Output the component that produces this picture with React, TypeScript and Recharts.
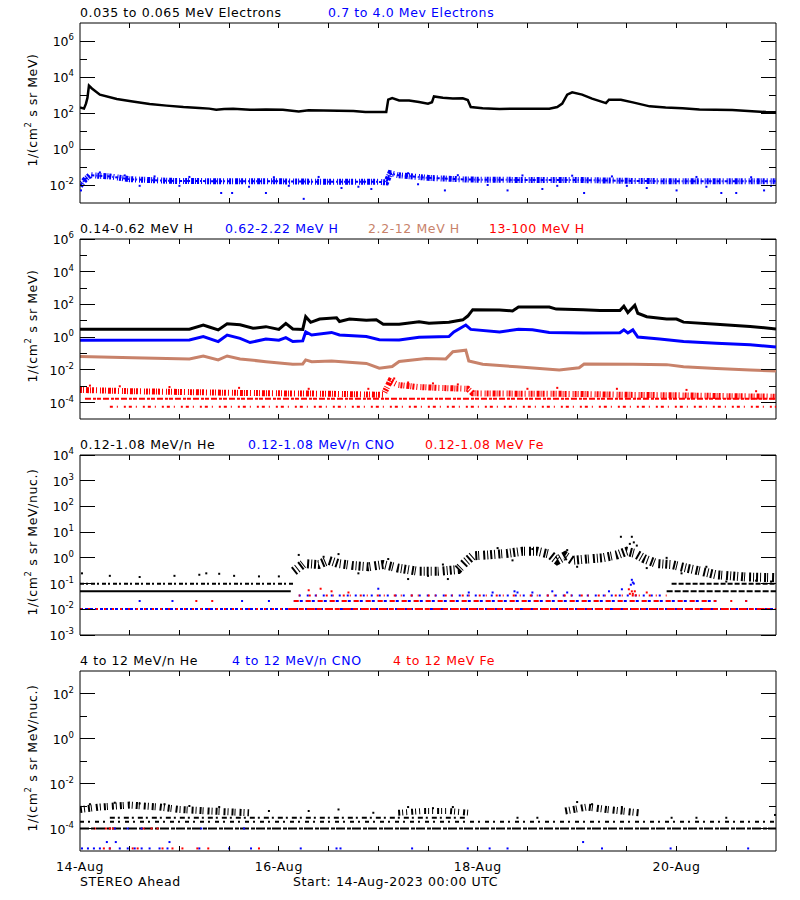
import React from "react";
import { ComposedChart, Line, Scatter, XAxis, YAxis, ReferenceLine } from "recharts";

type Pt = [number, number];

const FONT = "'DejaVu Sans', sans-serif";
const BLACK = "#000000";
const BLUE = "#0000ff";
const RED = "#ff0000";
const TAN = "#c8826a";

const PLOT_W = 696;
const PLOT_H = 180;

// x axis: days since 14-Aug-2023 00:00 UTC
const halfDays = [0, 0.5, 1, 1.5, 2, 2.5, 3, 3.5, 4, 4.5, 5, 5.5, 6, 6.5, 7];
const dateLabels: Record<number, string> = { 0: "14-Aug", 2: "16-Aug", 4: "18-Aug", 6: "20-Aug" };

// ---- panel 1: electrons
const eLow: Pt[] = [
  [0, 200], [0.04, 175], [0.06, 330], [0.075, 700], [0.085, 2000], [0.09, 3300], [0.12, 2300], [0.2, 1050],
  [0.37, 600], [0.53, 440], [0.7, 316], [0.87, 257], [1.04, 214], [1.2, 190], [1.3, 175], [1.37, 151],
  [1.45, 168], [1.54, 174], [1.71, 151], [1.87, 158], [2.04, 151], [2.2, 123], [2.3, 140], [2.45, 138],
  [2.6, 132], [2.75, 128], [2.87, 112], [3.0, 112], [3.08, 112], [3.1, 550], [3.14, 676], [3.21, 500],
  [3.31, 500], [3.41, 407], [3.5, 331], [3.54, 400], [3.56, 832], [3.65, 708], [3.75, 631], [3.85, 660],
  [3.9, 525], [3.93, 214], [4.05, 182], [4.22, 166], [4.39, 174], [4.55, 174], [4.72, 174], [4.8, 214],
  [4.85, 331], [4.9, 1050], [4.95, 1410], [5.05, 1050], [5.15, 631], [5.29, 355], [5.32, 550], [5.44, 550],
  [5.56, 389], [5.73, 234], [5.89, 200], [6.06, 182], [6.23, 158], [6.56, 145], [6.9, 112], [7.0, 110],
];
const eHigh: Pt[] = [
  [0, 0.009], [0.05, 0.02], [0.1, 0.035], [0.3, 0.03], [0.5, 0.021], [0.9, 0.017], [1.5, 0.016], [2.0, 0.016],
  [2.5, 0.015], [3.0, 0.015], [3.08, 0.014], [3.12, 0.045], [3.2, 0.035], [3.5, 0.025], [3.9, 0.02],
  [4.5, 0.019], [5.0, 0.019], [5.5, 0.017], [6.0, 0.016], [6.5, 0.016], [7.0, 0.016],
];
const eHighSpread: Pt[] = [
  [0.01, 0.005], [0.2, 0.05], [0.45, 0.034], [0.75, 0.03], [1.1, 0.028], [1.42, 0.0036], [1.53, 0.0036],
  [1.87, 0.0036], [1.95, 0.027], [2.25, 0.0017], [2.4, 0.028], [2.63, 0.0068], [2.93, 0.006], [3.3, 0.045],
  [3.67, 0.005], [3.8, 0.035], [4.3, 0.005], [4.45, 0.034], [4.65, 0.006], [4.95, 0.033], [5.07, 0.0036],
  [5.35, 0.03], [5.7, 0.0068], [6.0, 0.005], [6.2, 0.028], [6.45, 0.0036], [6.6, 0.0036], [6.75, 0.027],
  [6.88, 0.005], [0.6, 0.009], [1.0, 0.009], [1.7, 0.008], [2.1, 0.009], [2.8, 0.008], [3.4, 0.011],
  [4.1, 0.01], [4.8, 0.009], [5.5, 0.009], [6.3, 0.008], [6.95, 0.009],
];

// ---- panel 2: protons
const h1: Pt[] = [
  [0, 3.0], [0.5, 3.0], [1.1, 3.1], [1.24, 5.5], [1.3, 4.2], [1.39, 2.8], [1.48, 6.6], [1.61, 5.8],
  [1.74, 3.5], [1.87, 4.4], [2.0, 3.0], [2.07, 7], [2.14, 3.2], [2.24, 3.0], [2.27, 17.8], [2.32, 8.1],
  [2.41, 12.9], [2.58, 15.5], [2.61, 9.1], [2.71, 12.9], [2.88, 10.7], [2.98, 11.5], [3.05, 6.2], [3.21, 6.2],
  [3.41, 8.9], [3.51, 7.1], [3.71, 8.3], [3.85, 11.5], [3.9, 19.5], [3.95, 48], [4.22, 46], [4.35, 40],
  [4.41, 69], [4.72, 69], [4.79, 52], [5.06, 48], [5.23, 42], [5.43, 42], [5.47, 78], [5.51, 32],
  [5.58, 89], [5.61, 29], [5.7, 17.8], [5.9, 12.9], [6.0, 12.9], [6.07, 8.3], [6.4, 6.2], [6.74, 4.5], [7.0, 3.2],
];
const h2: Pt[] = [
  [0, 0.65], [1.1, 0.68], [1.24, 1.1], [1.39, 0.54], [1.48, 1.35], [1.61, 0.85], [1.71, 0.47], [1.87, 0.78],
  [2.0, 0.65], [2.07, 0.93], [2.14, 0.54], [2.24, 0.59], [2.27, 2.1], [2.33, 1.35], [2.53, 1.95], [2.61, 1.35],
  [2.88, 1.1], [3.01, 0.7], [3.21, 0.68], [3.41, 1.0], [3.71, 1.1], [3.76, 2.1], [3.88, 5.5], [3.93, 3.0],
  [4.22, 2.1], [4.41, 3.0], [4.55, 2.8], [4.72, 1.95], [5.06, 1.8], [5.43, 1.85], [5.47, 2.8], [5.51, 1.8],
  [5.56, 2.8], [5.61, 1.02], [5.83, 0.78], [6.07, 0.54], [6.4, 0.43], [6.74, 0.34], [7.0, 0.25],
];
const h3: Pt[] = [
  [0, 0.065], [0.53, 0.056], [1.1, 0.047], [1.24, 0.071], [1.39, 0.041], [1.48, 0.071], [1.61, 0.047],
  [1.87, 0.032], [2.14, 0.022], [2.24, 0.023], [2.27, 0.041], [2.33, 0.032], [2.53, 0.035], [2.88, 0.025],
  [3.01, 0.0126], [3.14, 0.016], [3.21, 0.033], [3.48, 0.05], [3.68, 0.047], [3.75, 0.13], [3.88, 0.16],
  [3.91, 0.035], [4.05, 0.022], [4.39, 0.0155], [4.82, 0.0098], [5.02, 0.0135], [5.07, 0.023], [5.56, 0.022],
  [5.9, 0.021], [6.07, 0.0155], [6.4, 0.0123], [6.74, 0.0098], [7.0, 0.0085],
];
const h4: Pt[] = [
  [0, 0.0006], [0.5, 0.0005], [1.0, 0.00045], [1.5, 0.0004], [2.0, 0.00037], [2.5, 0.00035], [3.05, 0.0003],
  [3.12, 0.0021], [3.2, 0.0012], [3.4, 0.0009], [3.6, 0.0008], [3.9, 0.0007], [3.95, 0.00037], [4.5, 0.00035],
  [5.0, 0.00034], [5.5, 0.0003], [6.0, 0.00028], [6.5, 0.00025], [7.0, 0.00023],
];
const h4RowA: Pt[] = [[0.05, 1.7e-4], [7, 1.7e-4]];
const h4RowB: Pt[] = [[0.3, 5.6e-5], [7, 5.6e-5]];
const h4Spread: Pt[] = [
  [0.1, 0.0011], [0.4, 0.001], [0.9, 0.0009], [1.6, 0.0008], [2.3, 0.0007], [2.9, 0.0007], [3.16, 0.003],
  [3.3, 0.0017], [3.55, 0.0015], [3.8, 0.0013], [4.5, 0.0007], [4.8, 0.0008], [5.4, 0.0007], [6.1, 0.0006],
  [6.8, 0.0005],
];

// ---- panel 3: 0.12-1.08 MeV/n ions
const heLevel05a: Pt[] = [[0, 0.05], [2.12, 0.05]];
const heLevel05b: Pt[] = [[5.9, 0.05], [7, 0.05]];
const heLevel10a: Pt[] = [[0, 0.098], [2.15, 0.098]];
const heLevel10b: Pt[] = [[5.95, 0.098], [7, 0.098]];
const heBand: Pt[] = [
  [2.15, 0.3], [2.25, 0.6], [2.4, 0.55], [2.5, 0.8], [2.6, 0.6], [2.75, 0.5], [2.9, 0.45], [3.05, 0.55],
  [3.2, 0.4], [3.4, 0.3], [3.6, 0.3], [3.8, 0.35], [3.88, 0.7], [3.95, 1.2], [4.1, 1.3], [4.3, 1.5],
  [4.45, 1.8], [4.6, 1.8], [4.72, 1.4], [4.8, 0.8], [4.88, 1.2], [4.95, 0.8], [5.1, 0.9], [5.25, 1.0],
  [5.4, 1.3], [5.5, 1.8], [5.58, 1.5], [5.68, 0.9], [5.8, 0.6], [5.95, 0.55], [6.1, 0.4], [6.25, 0.3],
  [6.4, 0.22], [6.7, 0.18], [7.0, 0.17],
];
const heDots: Pt[] = [
  [0.02, 0.25], [0.3, 0.2], [0.6, 0.18], [0.95, 0.2], [1.2, 0.22], [1.27, 0.25], [1.4, 0.24], [1.55, 0.2],
  [1.8, 0.19], [2.0, 0.19], [2.2, 1.3], [2.45, 1.1], [2.6, 1.4], [2.8, 0.25], [3.1, 0.9], [3.3, 0.15],
  [3.5, 0.2], [3.65, 0.55], [3.7, 0.15], [4.2, 2.4], [4.35, 0.8], [4.55, 2.2], [4.9, 2.0], [5.0, 0.45],
  [5.44, 6.6], [5.53, 3.5], [5.55, 6.6], [5.57, 4.0], [5.6, 3.0], [5.7, 0.4], [5.9, 1.0], [6.05, 0.25],
  [6.3, 0.45], [6.5, 0.12], [6.8, 0.13], [6.95, 0.12],
];
const ionRow1: Pt[] = [[0, 0.0102], [7, 0.0102]];
const fe1Early: Pt[] = [[0, 0.0102], [2.1, 0.0102]];
const fe1Late: Pt[] = [[2.1, 0.0102], [7, 0.0102]];
const ionRow2: Pt[] = [[2.15, 0.021], [6.4, 0.021]];
const ionRow3: Pt[] = [[2.2, 0.034], [5.9, 0.034]];
const cnoDots: Pt[] = [
  [0.6, 0.021], [0.93, 0.021], [1.63, 0.021], [1.9, 0.021], [3.0, 0.063], [3.91, 0.045], [4.15, 0.045],
  [4.37, 0.05], [4.4, 0.045], [4.55, 0.045], [4.75, 0.05], [4.9, 0.045], [5.32, 0.05], [5.45, 0.06],
  [5.54, 0.09], [5.55, 0.14], [5.56, 0.11], [5.57, 0.1], [6.7, 0.021], [6.95, 0.0102],
];
const feDots: Pt[] = [
  [1.17, 0.021], [1.33, 0.021], [2.3, 0.055], [2.42, 0.063], [2.53, 0.05], [2.7, 0.045], [5.52, 0.06],
  [5.53, 0.04], [5.55, 0.05], [5.56, 0.04], [5.58, 0.05], [5.59, 0.035], [5.7, 0.045], [6.55, 0.021],
  [6.7, 0.021],
];

// ---- panel 4: 4-12 MeV/n ions
const he4Row1: Pt[] = [[0, 1e-4], [7, 1e-4]];
const he4Row2: Pt[] = [[0, 2e-4], [7, 2e-4]];
const he4Row3: Pt[] = [[0.3, 3e-4], [3.9, 3e-4]];
const he4BandA: Pt[] = [[0, 0.0007], [0.2, 0.0009], [0.5, 0.0011], [0.8, 0.0009], [1.0, 0.0007], [1.3, 0.0006], [1.7, 0.0005]];
const he4BandB: Pt[] = [[3.2, 0.0005], [3.45, 0.0006], [3.7, 0.0006], [3.92, 0.0005]];
const he4BandC: Pt[] = [[4.88, 0.0006], [5.1, 0.0009], [5.3, 0.0007], [5.62, 0.0005]];
const he4Dots: Pt[] = [
  [0.1, 0.0012], [0.35, 0.0014], [0.6, 0.0013], [0.85, 0.0012], [1.1, 0.001], [1.4, 0.0009], [1.9, 0.0006],
  [2.3, 0.0006], [2.6, 0.0007], [2.95, 0.0005], [3.3, 0.0009], [3.55, 0.0008], [3.75, 0.0009], [4.4, 0.0003],
  [4.6, 0.0003], [5.0, 0.0015], [5.15, 0.0012], [5.45, 0.0009], [5.95, 0.0003], [6.2, 0.0003], [6.5, 0.0003],
  [6.99, 0.0004],
];
const cno4Dots: Pt[] = [
  [0.02, 1.3e-5], [0.08, 1.3e-5], [0.14, 1.3e-5], [0.2, 1.3e-5], [0.27, 2.5e-5], [0.36, 2.5e-5],
  [0.3, 1.3e-5], [0.4, 1.3e-5], [0.48, 1.3e-5], [0.55, 1.3e-5], [0.62, 1.3e-5], [0.7, 1.3e-5],
  [0.8, 1.3e-5], [0.9, 2.5e-5], [0.88, 1.3e-5], [1.2, 1.3e-5], [1.5, 1.3e-5], [1.72, 1.3e-5],
  [2.22, 1.3e-5], [2.58, 1.3e-5], [2.62, 1.3e-5], [3.34, 1.3e-5], [3.9, 1.3e-5], [4.12, 1.3e-5],
  [4.3, 1.3e-5], [5.06, 2.5e-5], [5.25, 1.3e-5], [5.94, 1.3e-5], [6.72, 1.3e-5], [0.35, 1e-4],
  [0.48, 1e-4], [0.62, 1e-4], [1.22, 1e-4], [1.65, 1e-4],
];
const fe4Dots: Pt[] = [
  [0.24, 1.3e-5], [0.3, 1.3e-5], [0.53, 1.3e-5], [0.58, 1.3e-5], [0.83, 1.3e-5], [0.93, 1.3e-5],
  [1.03, 1.3e-5], [1.18, 1.3e-5], [1.29, 1.3e-5], [1.8, 1.3e-5], [0.15, 1e-4], [0.26, 1e-4],
  [0.3, 1e-4], [0.33, 1e-4], [0.64, 1e-4], [0.72, 1e-4], [0.78, 1e-4],
];

const SPECKLE = "2 1 1 2 3 1 1 1 2 2 1 3 1 1";

const toXY = (pts: Pt[]) => pts.map(([x, y]) => ({ x, y }));

const band = (key: string, pts: Pt[], color: string, width: number, dash?: string) => (
  <Line
    key={key}
    data={toXY(pts)}
    dataKey="y"
    type="linear"
    stroke={color}
    strokeWidth={width}
    strokeDasharray={dash}
    dot={false}
    activeDot={false}
    isAnimationActive={false}
  />
);

const dots = (key: string, pts: Pt[], color: string, size = 2) => (
  <Scatter
    key={key}
    data={toXY(pts)}
    fill={color}
    isAnimationActive={false}
    shape={(p: any) => <rect x={p.cx - size / 2} y={p.cy - size / 2} width={size} height={size} fill={color} />}
  />
);

interface PanelProps {
  top: number;
  domain: [number, number];
  ticks: number[];
  labeled: number[];
  showDates?: boolean;
  children: React.ReactNode;
}

function Panel({ top, domain, ticks, labeled, showDates, children }: PanelProps) {
  const yTick = (p: any) => {
    const e = Math.round(Math.log10(p.payload.value));
    const major = labeled.includes(e);
    const len = major ? 15 : 7;
    const x0 = p.x;
    const y0 = p.y;
    return (
      <g>
        <line x1={x0} x2={x0 + len} y1={y0} y2={y0} stroke={BLACK} shapeRendering="crispEdges" />
        <line x1={x0 + PLOT_W - len} x2={x0 + PLOT_W} y1={y0} y2={y0} stroke={BLACK} shapeRendering="crispEdges" />
        {major && (
          <text x={x0 - 6} y={y0 + 5} textAnchor="end" fontFamily={FONT} fontSize={12.5} fill={BLACK}>
            10
            <tspan dy={-6} fontSize={8.5}>{e}</tspan>
          </text>
        )}
      </g>
    );
  };
  const xTick = (p: any) => {
    const d = p.payload.value;
    const inner = d > 0 && d < 7;
    return (
      <g>
        {inner && <line x1={p.x} x2={p.x} y1={p.y} y2={p.y - 5} stroke={BLACK} shapeRendering="crispEdges" />}
        {inner && <line x1={p.x} x2={p.x} y1={p.y - PLOT_H} y2={p.y - PLOT_H + 5} stroke={BLACK} shapeRendering="crispEdges" />}
        {showDates && dateLabels[d] && (
          <text x={p.x} y={p.y + 20} textAnchor="middle" fontFamily={FONT} fontSize={12.5} letterSpacing={0.6} fill={BLACK}>
            {dateLabels[d]}
          </text>
        )}
      </g>
    );
  };
  return (
    <div style={{ position: "absolute", left: 0, top: top - 30 }}>
      <ComposedChart width={800} height={250} margin={{ top: 30, right: 24, bottom: 0, left: 0 }}>
        <XAxis
          dataKey="x"
          type="number"
          domain={[0, 7]}
          allowDataOverflow
          ticks={halfDays}
          interval={0}
          height={40}
          tickSize={0}
          tickMargin={0}
          tickLine={false}
          axisLine={{ stroke: BLACK }}
          tick={xTick}
        />
        <YAxis
          dataKey="y"
          type="number"
          scale="log"
          domain={domain}
          allowDataOverflow
          ticks={ticks}
          interval={0}
          width={80}
          tickSize={0}
          tickMargin={0}
          tickLine={false}
          axisLine={{ stroke: BLACK }}
          tick={yTick}
        />
        <ReferenceLine x={7} stroke={BLACK} />
        <ReferenceLine y={domain[1]} stroke={BLACK} />
        {children}
      </ComposedChart>
    </div>
  );
}

const titles = [
  { y: 17, items: [["0.035 to 0.065 MeV Electrons", 80, BLACK], ["0.7 to 4.0 Mev Electrons", 328, BLUE]] },
  { y: 233, items: [["0.14-0.62 MeV H", 80, BLACK], ["0.62-2.22 MeV H", 225, BLUE], ["2.2-12 MeV H", 368, TAN], ["13-100 MeV H", 489, RED]] },
  { y: 449, items: [["0.12-1.08 MeV/n He", 80, BLACK], ["0.12-1.08 MeV/n CNO", 248, BLUE], ["0.12-1.08 MeV Fe", 425, RED]] },
  { y: 665, items: [["4 to 12 MeV/n He", 80, BLACK], ["4 to 12 MeV/n CNO", 232, BLUE], ["4 to 12 MeV Fe", 393, RED]] },
];
const yTitles = [
  { cy: 110, unit: "MeV)" },
  { cy: 326, unit: "MeV)" },
  { cy: 542, unit: "MeV/nuc.)" },
  { cy: 758, unit: "MeV/nuc.)" },
];

export default function App() {
  return (
    <div style={{ position: "absolute", left: 0, top: 0, width: 800, height: 900, background: "#fff", overflow: "hidden" }}>
      <Panel top={23} domain={[1e-3, 1e7]} ticks={[1e-2, 1e-1, 1, 10, 100, 1e3, 1e4, 1e5, 1e6]} labeled={[-2, 0, 2, 4, 6]}>
        {band("eHigh", eHigh, BLUE, 6, SPECKLE)}
        {band("eHighCore", eHigh, BLUE, 2, "3 2 1 2")}
        {dots("eHighSpread", eHighSpread, BLUE)}
        {band("eLow", eLow, BLACK, 2.5)}
      </Panel>
      <Panel top={239} domain={[1e-5, 1e6]} ticks={[1e-4, 1e-3, 1e-2, 1e-1, 1, 10, 100, 1e3, 1e4, 1e5, 1e6]} labeled={[-4, -2, 0, 2, 4, 6]}>
        {band("h4RowB", h4RowB, RED, 2, "3 4 1 6 2 3")}
        {band("h4RowA", h4RowA, RED, 2, "6 2 3 1 4 2")}
        {band("h4", h4, RED, 6, SPECKLE)}
        {dots("h4Spread", h4Spread, RED)}
        {band("h3", h3, TAN, 3)}
        {band("h2", h2, BLUE, 3)}
        {band("h1", h1, BLACK, 3)}
      </Panel>
      <Panel top={455} domain={[1e-3, 1e4]} ticks={[1e-3, 1e-2, 1e-1, 1, 10, 100, 1e3, 1e4]} labeled={[-3, -2, -1, 0, 1, 2, 3, 4]}>
        {band("cno1", ionRow1, BLUE, 2, "3 2")}
        {band("fe1a", fe1Early, RED, 2, "2 6")}
        {band("fe1b", fe1Late, RED, 2, "8 2 5 3")}
        {band("cno2", ionRow2, BLUE, 2, "3 3")}
        {band("fe2", ionRow2, RED, 2, "5 7")}
        {band("cno3", ionRow3, BLUE, 2, "2 6")}
        {band("fe3", ionRow3, RED, 2, "1 9 2 5")}
        {dots("cnoDots", cnoDots, BLUE)}
        {dots("feDots", feDots, RED)}
        {band("he05a", heLevel05a, BLACK, 2)}
        {band("he05b", heLevel05b, BLACK, 2, "6 2")}
        {band("he10a", heLevel10a, BLACK, 2, "4 2 2 3")}
        {band("he10b", heLevel10b, BLACK, 2, "5 2")}
        {band("heBand", heBand, BLACK, 9, "2 2 1 3 2 1 1 4 2 2 1 2")}
        {dots("heDots", heDots, BLACK)}
      </Panel>
      <Panel top={671} domain={[1e-5, 1e3]} ticks={[1e-4, 1e-3, 1e-2, 1e-1, 1, 10, 100]} labeled={[-4, -2, 0, 2]} showDates>
        {band("he4Row1", he4Row1, BLACK, 2, "9 2 4 1")}
        {band("he4Row2", he4Row2, BLACK, 2, "4 4 2 5")}
        {band("he4Row3", he4Row3, BLACK, 2, "5 3 2 4")}
        {band("he4BandA", he4BandA, BLACK, 7, "2 2 1 3 2 1 1 4")}
        {band("he4BandB", he4BandB, BLACK, 6, "2 2 1 3 1 4")}
        {band("he4BandC", he4BandC, BLACK, 7, "2 2 1 3 2 1 1 4")}
        {dots("he4Dots", he4Dots, BLACK)}
        {dots("cno4Dots", cno4Dots, BLUE)}
        {dots("fe4Dots", fe4Dots, RED)}
      </Panel>
      <svg width={800} height={900} style={{ position: "absolute", left: 0, top: 0, pointerEvents: "none" }}>
        <g fontFamily={FONT} fontSize={12.5} letterSpacing={0.6}>
          {titles.map((t) =>
            t.items.map(([txt, x, c]) => (
              <text key={`${t.y}-${txt}`} x={x as number} y={t.y} fill={c as string}>
                {txt}
              </text>
            ))
          )}
          {yTitles.map((t) => (
            <text key={t.cy} transform={`translate(37 ${t.cy}) rotate(-90)`} textAnchor="middle" fill={BLACK}>
              1/(cm<tspan dy={-6} fontSize={8.5}>2</tspan>
              <tspan dy={6}> s sr {t.unit}</tspan>
            </text>
          ))}
          <text x={80} y={886} fill={BLACK}>STEREO Ahead</text>
          <text x={293} y={886} fill={BLACK}>Start: 14-Aug-2023 00:00 UTC</text>
        </g>
      </svg>
    </div>
  );
}
